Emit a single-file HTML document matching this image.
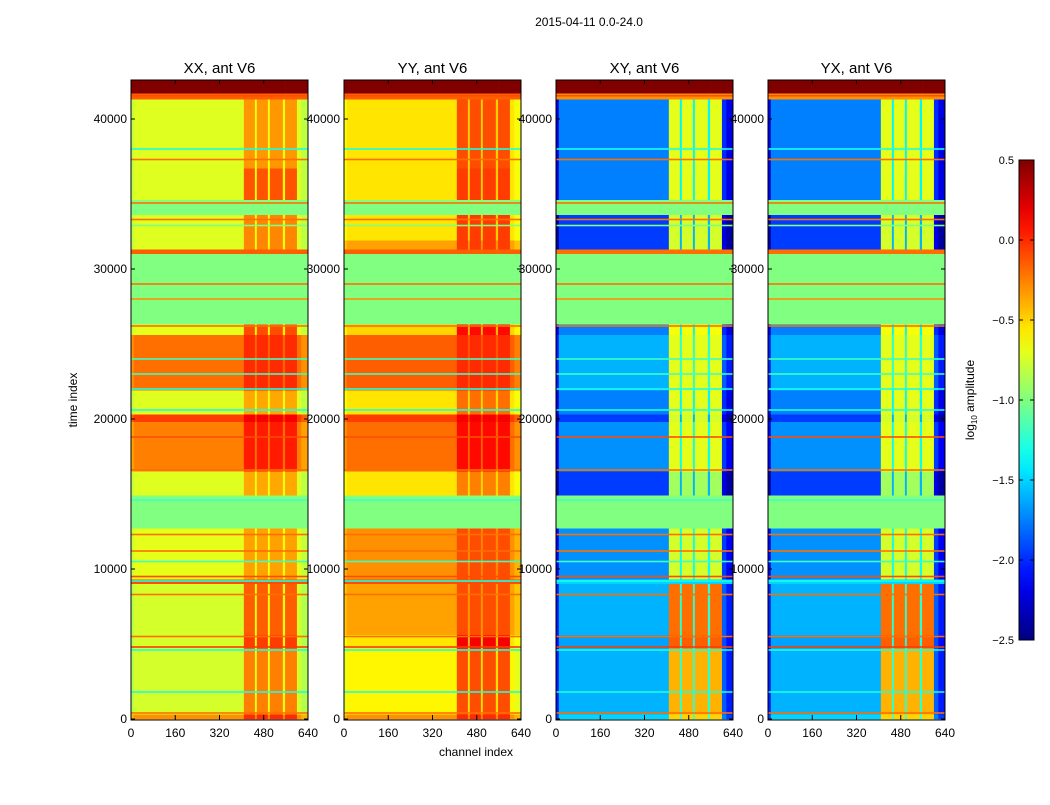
<!DOCTYPE html>
<html><head><meta charset="utf-8"><style>
body{margin:0;background:#fff;width:1050px;height:800px;overflow:hidden;font-family:"Liberation Sans","DejaVu Sans",sans-serif}
</style></head><body>
<svg id="chart" width="1050" height="800" xmlns="http://www.w3.org/2000/svg" font-family="Liberation Sans, DejaVu Sans, sans-serif">
<text x="589" y="26" font-size="12" text-anchor="middle">2015-04-11 0.0-24.0</text>
<text transform="translate(77,400) rotate(-90)" font-size="12" text-anchor="middle">time index</text>
<text x="476" y="756" font-size="12" text-anchor="middle">channel index</text>
<g id="panels"></g>
<g id="cbar"></g>
<text transform="translate(974,400) rotate(-90)" font-size="12" text-anchor="middle">log<tspan font-size="8" dy="3">10</tspan><tspan dy="-3"> amplitude</tspan></text>
</svg>
<script>
const panelTitles=['XX, ant V6','YY, ant V6','XY, ant V6','YX, ant V6'];
const xTicks=[0,160,320,480,640];
const yTicks=[0,10000,20000,30000,40000];
const cbTicks=[0.5,0.0,-0.5,-1.0,-1.5,-2.0,-2.5];
const chanEdges=[0,10,408,448,455,495,502,549,557,600,616,640];
const chanKind=['edge','base','rfi','gap','rfi','gap','rfi','gap','rfi','base2','edge'];
const bandStart=[41700,41300,36700,34600,33600,31900,31300,31000,26300,25600,21900,20300,19800,16500,14900,12700,9300,9000,5600,4700,300,0];
const bandEnd=[42650,41700,41300,36700,34600,33600,31900,31300,31000,26300,25600,21900,20300,19800,16500,14900,12700,9300,9000,5600,4700,300];
const baseXX=[0.5,-0.15,-0.72,-0.72,-1,-0.72,-0.72,-0.15,-1,-0.7,-0.2,-0.72,-0.05,-0.25,-0.72,-1,-0.7,-0.1,-0.75,-0.75,-0.75,-0.3];
const baseYY=[0.5,-0.15,-0.55,-0.55,-1,-0.55,-0.35,-0.15,-1,-0.5,-0.15,-0.55,-0.05,-0.2,-0.55,-1,-0.3,-0.1,-0.35,-0.55,-0.6,-0.3];
const baseXY=[0.5,-0.3,-1.75,-1.75,-1,-1.95,-1.95,-0.2,-1,-1.75,-1.6,-1.75,-1.95,-1.7,-1.95,-1,-1.7,-1.5,-1.6,-1.65,-1.6,-1.5];
const baseYX=[0.5,-0.3,-1.75,-1.75,-1,-1.95,-1.95,-0.2,-1,-1.75,-1.6,-1.75,-1.95,-1.7,-1.95,-1,-1.7,-1.5,-1.6,-1.65,-1.6,-1.5];
const rfiXX=[0,0,0.4,0.6,0,0.45,0.45,0,0,0.6,0.2,0.35,0.2,0.3,0.35,0,0.35,0,0.6,0.7,0.5,0.3];
const rfiYY=[0,0,0.45,0.5,0,0.5,0.3,0,0,0.6,0.15,0.35,0.2,0.3,0.3,0,0.2,0,0.25,0.7,0.5,0.3];
const rfiXY=[0,0,1.05,1.05,0,1.2,1.2,0,0,1.1,0.9,1.05,1.2,1.0,1.05,0,0.95,0,1.4,1.5,1.2,1.0];
const lineTimes=[41550,38000,37300,34400,33300,32900,29000,28000,26200,24000,23000,22000,20600,18800,16600,14600,12300,11200,10500,9500,9200,8300,5500,4800,4600,1800,400];
const lineVals=[-0.1,-1.3,-0.2,-0.2,-0.2,-1.0,-0.2,-0.3,-0.2,-1.2,-1.2,-1.3,-1.3,-0.1,-0.2,-1.2,-0.2,-0.2,-1.2,-0.1,-1.3,-0.2,-0.2,-0.05,-1.3,-1.3,-0.2];
const panelBase=[baseXX,baseYY,baseXY,baseYX];
const panelRfi=[rfiXX,rfiYY,rfiXY,rfiXY];
const panelLeft=[131,344,556,768];
const PW=177, Y0=719, TOPY=80;
const vmin=-2.5,vmax=0.5;
function clip(x){return Math.max(0,Math.min(1,x));}
function jet(v){const n=clip((v-vmin)/(vmax-vmin));
 const r=clip(1.5-Math.abs(4*n-3)),g=clip(1.5-Math.abs(4*n-2)),b=clip(1.5-Math.abs(4*n-1));
 return 'rgb('+Math.round(r*255)+','+Math.round(g*255)+','+Math.round(b*255)+')';}
function yScale(t){return Math.max(TOPY,Y0-t*0.015);}
const NS='http://www.w3.org/2000/svg';
function mk(tag,attrs,parent){const e=document.createElementNS(NS,tag);for(const k in attrs)e.setAttribute(k,attrs[k]);parent.appendChild(e);return e;}
const panels=document.getElementById('panels');
for(let p=0;p<4;p++){
 const L=panelLeft[p];
 const xScale=c=>L+c/640*PW;
 const g=mk('g',{},panels);
 
 
 const base=panelBase[p],rfi=panelRfi[p];
 const cross=p>=2;
 for(let b=0;b<bandStart.length;b++){
  const y1=yScale(bandEnd[b]),y2=yScale(bandStart[b]);
  const flagged=base[b]===-1||base[b]>0.4||rfi[b]===0;
  for(let c=0;c<chanKind.length;c++){
   let v=base[b];const k=chanKind[c];
   if(k==='rfi')v+=rfi[b];
   else if(k==='gap')v+=cross?Math.min(0.35,rfi[b]):rfi[b]*0.15;
   else if(!flagged&&k==='edge')v+=cross?-0.45:-0.1;
   else if(!flagged&&k==='base2')v+=cross?-0.25:0;
   const x1=xScale(chanEdges[c]),x2=xScale(chanEdges[c+1]);
   const r=mk('rect',{x:x1.toFixed(2),y:y1.toFixed(2),width:(x2-x1+0.3).toFixed(2),height:(y2-y1+0.3).toFixed(2),fill:jet(v)},g);
   
   
  }
 }
 for(let i=0;i<lineTimes.length;i++){
  let v=lineVals[i];
  const r=mk('rect',{x:L,y:(yScale(lineTimes[i])-0.8).toFixed(2),width:PW,height:1.6,fill:jet(v)},g);
  
  
 }
 const fr=mk('rect',{x:L,y:TOPY,width:PW,height:Y0+1-TOPY,fill:'none',stroke:'#000','stroke-width':1},g);
 
 
 const tt=mk('text',{x:L+PW/2,y:73,'font-size':15,'text-anchor':'middle'},g);
 tt.textContent=panelTitles[p];
 
 
 xTicks.forEach(t=>{const x=xScale(t);
  mk('line',{x1:x,x2:x,y1:Y0+1,y2:Y0-4,stroke:'#000'},g);
  mk('line',{x1:x,x2:x,y1:TOPY,y2:TOPY+4,stroke:'#000'},g);
  const tx=mk('text',{x:x,y:737,'font-size':12,'text-anchor':'middle'},g);tx.textContent=t;
  
  });
 yTicks.forEach(t=>{const y=yScale(t);
  mk('line',{x1:L,x2:L+4,y1:y,y2:y,stroke:'#000'},g);
  mk('line',{x1:L+PW,x2:L+PW-4,y1:y,y2:y,stroke:'#000'},g);
  const tx=mk('text',{x:L-4,y:y+4,'font-size':12,'text-anchor':'end'},g);tx.textContent=t;
  
  });
}
const cb=document.getElementById('cbar');
const CBX=1019,CBW=15,CBT=160,CBB=640;
const defs=mk('defs',{},cb);
const grad=mk('linearGradient',{id:'jetg',x1:0,y1:1,x2:0,y2:0},defs);
for(let i=0;i<=20;i++){mk('stop',{offset:i/20,'stop-color':jet(vmin+(vmax-vmin)*i/20)},grad);}
mk('rect',{x:CBX,y:CBT,width:CBW,height:CBB-CBT,fill:'url(#jetg)',stroke:'#000','stroke-width':1},cb);
cbTicks.forEach(t=>{const y=CBB-(t-vmin)/(vmax-vmin)*(CBB-CBT);
 mk('line',{x1:CBX,x2:CBX+4,y1:y,y2:y,stroke:'#000'},cb);
 mk('line',{x1:CBX+CBW,x2:CBX+CBW-4,y1:y,y2:y,stroke:'#000'},cb);
 const tx=mk('text',{x:CBX-5,y:y+4,'font-size':11,'text-anchor':'end'},cb);tx.textContent=(t<0?'\u2212':'')+Math.abs(t).toFixed(1);
 
 });
</script>
</body></html>
